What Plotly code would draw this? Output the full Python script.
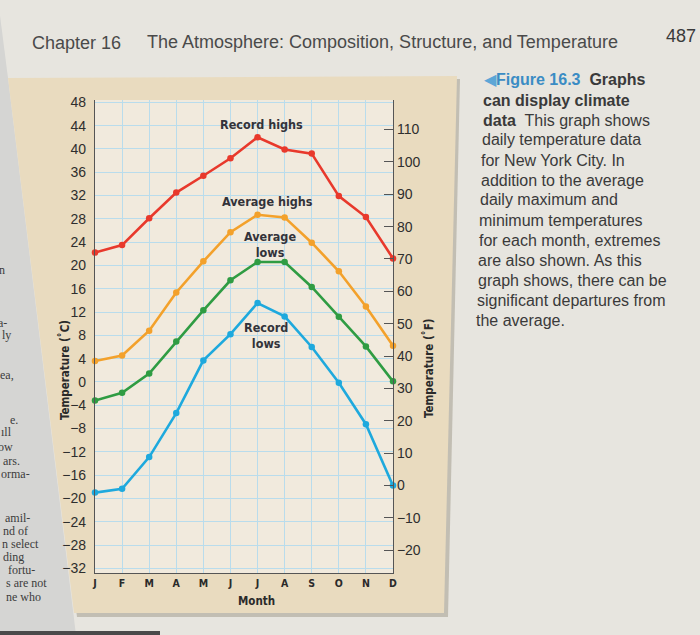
import plotly.graph_objects as go

# ---------------- data (°C) ----------------
months = ["J", "F", "M", "A", "M", "J", "J", "A", "S", "O", "N", "D"]
record_highs = [22.2, 23.5, 28.1, 32.5, 35.4, 38.4, 42.0, 39.9, 39.2, 31.9, 28.3, 21.2]
average_highs = [3.6, 4.55, 8.8, 15.35, 20.7, 25.7, 28.7, 28.25, 23.9, 19.0, 12.95, 6.2]
average_lows = [-3.2, -1.85, 1.45, 6.95, 12.3, 17.45, 20.6, 20.6, 16.3, 11.2, 6.1, 0.1]
record_lows = [-19.0, -18.35, -12.9, -5.35, 3.7, 8.2, 13.55, 11.25, 6.0, -0.15, -7.25, -17.8]
c_ticks = list(range(-32, 49, 4))
f_ticks = list(range(-20, 111, 10))

series_names = ["Record highs", "Average highs", "Average lows", "Record lows"]
series_colors = ["#e8392c", "#f3a12b", "#2f9c43", "#1ea9dd"]

# ---------------- layout geometry (pixels) ----------------
W, H = 700, 635
L, R, T, B = 95, 393, 100, 573
C_RANGE = [-32.8, 48.4]
F_RANGE = [v * 9 / 5 + 32 for v in C_RANGE]


def px(x):
    return (x - L) / (R - L)


def py(y):
    return (B - y) / (B - T)


def poly(points):
    return "M " + " L ".join(f"{px(x):.5f},{py(y):.5f}" for x, y in points) + " Z"


SANS = "Liberation Sans, Arial, sans-serif"
COND = "Liberation Sans Narrow, DejaVu Sans Condensed, Arial Narrow, Liberation Sans, sans-serif"
SERIF = "Liberation Serif, Times New Roman, serif"

fig = go.Figure()

for name, vals, col in zip(series_names, [record_highs, average_highs, average_lows, record_lows], series_colors):
    fig.add_trace(go.Scatter(
        x=list(range(len(months))), y=vals, name=name, mode="lines+markers",
        line=dict(color=col, width=2.6), marker=dict(color=col, size=6.5),
        cliponaxis=False, showlegend=False, hoverinfo="skip"))

# invisible trace on the °F axis so it is drawn
fig.add_trace(go.Scatter(x=[0], y=[F_RANGE[0]], yaxis="y2", mode="markers",
                         marker=dict(opacity=0), showlegend=False, hoverinfo="skip"))

shapes = []
shapes.append(dict(type="path", path=poly([(-2, 0), (8, 78), (76, 635), (0, 635)]),
                   xref="paper", yref="paper", fillcolor="#d5d5d3", line=dict(width=0), layer="below"))
shapes.append(dict(type="path", path=poly([(11, 81), (460, 79), (448, 617), (77, 617)]),
                   xref="paper", yref="paper", fillcolor="#c2beb3", line=dict(width=0), layer="below"))
shapes.append(dict(type="path", path=poly([(8, 78), (457, 76), (444, 613), (74, 613)]),
                   xref="paper", yref="paper", fillcolor="#e9dbbf", line=dict(width=0), layer="below"))
shapes.append(dict(type="rect", x0=0, x1=1, y0=0, y1=1, xref="paper", yref="paper",
                   fillcolor="#f1eadd", line=dict(width=0), layer="below"))
shapes.append(dict(type="rect", x0=px(0), x1=px(160), y0=py(635), y1=py(631), xref="paper", yref="paper",
                   fillcolor="#4a4a4a", line=dict(width=0), layer="below"))

annotations = []


def note(text, x, y, size, family=SANS, color="#3a3a3a", xanchor="center", ref="paper", angle=0):
    annotations.append(dict(text=text, x=x, y=y, xref=ref if ref != "paper" else "paper",
                            yref="y" if ref == "x" else "paper", xanchor=xanchor, yanchor="middle",
                            showarrow=False, textangle=angle, align="center",
                            font=dict(family=family, size=size, color=color)))


# series labels (data coordinates)
label_specs = [
    ("Record highs", 6.13, 44.2),
    ("Average highs", 6.35, 30.9),
    ("Average<br>lows", 6.45, 23.6),
    ("Record<br>lows", 6.33, 8.0),
]
for text, xv, yv in label_specs:
    note(f"<b>{text}</b>", xv, yv, 12.5, family=COND, color="#33333a", ref="x")

# axis titles
note("<b>Temperature (˚C)</b>", px(64), py(370), 11.5, family=COND, color="#2a2a2a", angle=-90)
note("<b>Temperature (˚F)</b>", px(428), py(368), 11.5, family=COND, color="#2a2a2a", angle=-90)
note("<b>Month</b>", px(256), py(601), 11.5, family=COND, color="#2a2a2a")

# page header
note("Chapter 16", px(30), py(43), 18, color="#4a4a4a", xanchor="left")
note("The Atmosphere: Composition, Structure, and Temperature", px(145), py(42), 18,
     color="#4a4a4a", xanchor="left")
note("487", px(664), py(36), 18, color="#3a3a3a", xanchor="left")

# caption
caption_lines = [
    "<span style='color:#5ca6d6'>◀</span><b><span style='color:#3a8cc4'>Figure 16.3</span>  Graphs</b>",
    "<b>can display climate</b>",
    "<b>data</b>  This graph shows",
    "daily temperature data",
    "for New York City. In",
    "addition to the average",
    "daily maximum and",
    "minimum temperatures",
    "for each month, extremes",
    "are also shown. As this",
    "graph shows, there can be",
    "significant departures from",
    "the average.",
]
for i, line in enumerate(caption_lines):
    note(line, px(482 - i * 0.65), py(80 + i * 20.0), 16, color="#3a3a3a", xanchor="left")

# fragments of the neighbouring page
fragments = [
    ("n", 7, 270), ("a-", 9, 323), ("ly", 13, 335), ("ea,", 16, 375), ("e.", 20, 420),
    ("ıll", 14, 432), ("ow", 15, 447), ("ars.", 22, 461), ("orma-", 32, 474),
    ("amil-", 32, 518), ("nd of", 30, 531), ("n select", 41, 544), ("ding", 26, 557),
    ("fortu-", 37, 570), ("s are not", 49, 583), ("ne who", 43, 597),
]
for text, xr, yc in fragments:
    note(text, px(xr), py(yc), 12, family=SERIF, color="#3c3c3c", xanchor="right")

fig.update_layout(
    width=W, height=H,
    margin=dict(l=L, r=W - R, t=T, b=H - B),
    paper_bgcolor="#e7e5df",
    plot_bgcolor="rgba(0,0,0,0)",
    shapes=shapes,
    annotations=annotations,
    xaxis=dict(range=[0, 11], tickvals=list(range(len(months))), ticktext=[f"<b>{m}</b>" for m in months],
               showgrid=True, gridcolor="#b9dcec", gridwidth=1, zeroline=False,
               showline=True, linecolor="#555555", linewidth=1.2, ticks="",
               tickfont=dict(family=COND, size=10.5, color="#2a2a2a"), fixedrange=True),
    yaxis=dict(range=C_RANGE, tickvals=c_ticks, showgrid=True, gridcolor="#b9dcec", gridwidth=1,
               zeroline=False, showline=True, linecolor="#555555", linewidth=1.2, ticks="",
               ticklabelstandoff=5,
               tickfont=dict(family=SANS, size=14, color="#2e2e2e"), fixedrange=True),
    yaxis2=dict(range=F_RANGE, tickvals=f_ticks, overlaying="y", side="right", showgrid=False,
                zeroline=False, showline=True, linecolor="#555555", linewidth=1.2,
                ticks="inside", ticklen=9, tickcolor="#555555", tickwidth=1.2,
                tickfont=dict(family=SANS, size=14, color="#2e2e2e"), fixedrange=True),
)

fig.write_html("out.html", config={"displayModeBar": False},
               post_script="document.body.style.margin='0';document.body.style.overflow='hidden';")
